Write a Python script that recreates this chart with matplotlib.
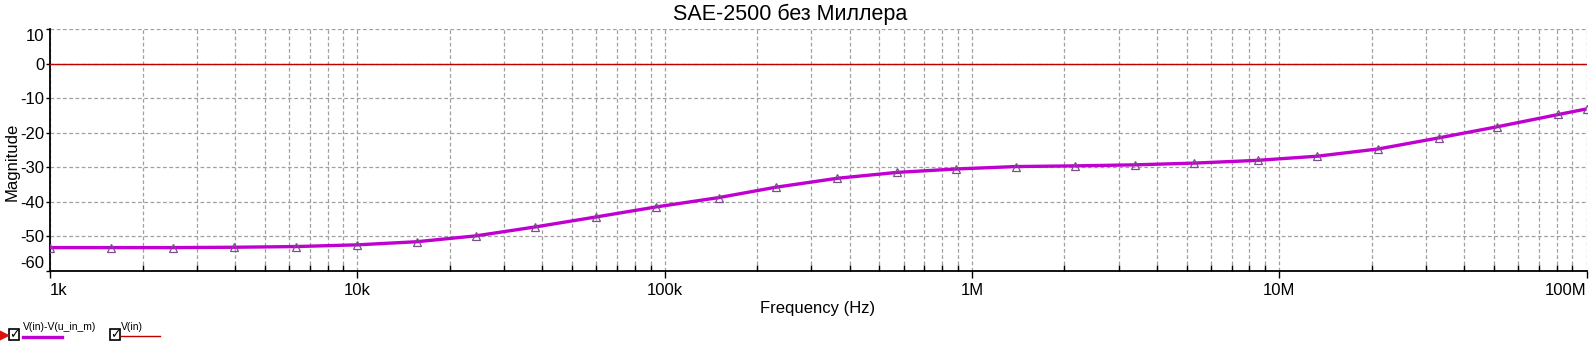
import numpy as np
import matplotlib
matplotlib.use("Agg")
import matplotlib.pyplot as plt
from matplotlib.lines import Line2D
from matplotlib.patches import Rectangle
from matplotlib.ticker import LogLocator, FixedLocator, NullFormatter

plt.rcParams['font.family'] = ['Liberation Sans', 'DejaVu Sans']

# values (Hz, dB)
freq = [1e3, 1.58e3, 2.51e3, 3.98e3, 6.31e3, 1e4, 1.56e4, 2.43e4, 3.8e4, 6e4,
        9.4e4, 1.5e5, 2.3e5, 3.65e5, 5.7e5, 8.9e5, 1.39e6, 2.17e6, 3.4e6,
        5.3e6, 8.5e6, 1.33e7, 2.1e7, 3.3e7, 5.1e7, 8.1e7, 1e8]
mag = [-53.3, -53.3, -53.3, -53.2, -53.0, -52.5, -51.6, -49.9, -47.3, -44.4,
       -41.5, -38.8, -35.8, -33.2, -31.5, -30.5, -29.8, -29.6, -29.3,
       -28.8, -28.0, -26.8, -24.7, -21.5, -18.3, -14.7, -13.1]
vin_freq = [1e3, 1e8]
vin_mag = [0, 0]

xticks = [1e3, 1e4, 1e5, 1e6, 1e7, 1e8]
xlabels = ["1k", "10k", "100k", "1M", "10M", "100M"]
yticks = [-60, -50, -40, -30, -20, -10, 0, 10]

purple = "#c000d0"
red = "#c00000"

fig = plt.figure(figsize=(15.9, 3.53), dpi=100)
ax = fig.add_axes([50 / 1590, 1 - 270.7 / 353, 1536.5 / 1590, (270.7 - 29.3) / 353])

ax.plot(vin_freq, vin_mag, color=red, lw=1.0, zorder=3)
ax.plot(freq, mag, color=purple, lw=2.4, zorder=4, solid_capstyle="butt")
ax.plot(freq, mag, ls="none", marker="^", ms=6, mfc="none", mec="#7a4f8a",
        mew=0.9, zorder=5)

ax.set_xscale("log")
ax.set_xlim(1e3, 1e8)
ax.set_ylim(-60, 10)

ax.xaxis.set_major_locator(FixedLocator(xticks))
ax.set_xticklabels(xlabels)
ax.xaxis.set_minor_locator(LogLocator(base=10, subs=np.arange(2, 10)))
ax.xaxis.set_minor_formatter(NullFormatter())
ax.set_yticks(yticks)
ax.set_yticklabels([str(v) for v in yticks])

ax.grid(True, which="both", axis="x", color="#a0a0a0", ls=(0, (3, 2)), lw=0.9)
ax.grid(True, which="major", axis="y", color="#a0a0a0", ls=(0, (3, 2)), lw=0.9)

for s in ("top", "right"):
    ax.spines[s].set_visible(False)
ax.spines["left"].set_linewidth(1.3)
ax.spines["bottom"].set_linewidth(1.3)

ax.tick_params(axis="x", which="major", direction="out", length=5, width=1,
               labelsize=12, pad=4)
ax.tick_params(axis="x", which="minor", direction="in", length=4, width=1)
ax.tick_params(axis="y", which="major", direction="out", length=3, width=1,
               labelsize=12, pad=1)

# end labels sit inside the plot area, as in the original
ylabs = ax.get_yticklabels()
ylabs[0].set_va("bottom")
ylabs[-1].set_va("top")
xlabs = ax.get_xticklabels()
xlabs[0].set_ha("left")
xlabs[-1].set_ha("right")

fig.text(0.497, 1 - 14 / 353, "SAE-2500 без Миллера", ha="center", va="center",
         fontsize=15.5)
fig.text(818 / 1590, 1 - 309 / 353, "Frequency (Hz)", ha="center", va="center",
         fontsize=12)
fig.text(12 / 1590, 1 - 162 / 353, "Magnitude", ha="center", va="center",
         rotation=90, fontsize=12)

# legend strip at the bottom left
def px(x, y):
    return x / 1590, 1 - y / 353

fig.add_artist(Line2D([px(2, 0)[0]], [px(0, 335)[1]], marker=">", color="#e01010",
                      ms=9, transform=fig.transFigure))
for x0 in (9, 110):
    fig.add_artist(Rectangle(px(x0, 340), 10 / 1590, 11 / 353, fill=False,
                             ec="black", lw=1.2, transform=fig.transFigure))
    fig.text(*px(x0 + 5, 334.5), "✓", ha="center", va="center", fontsize=9,
             fontweight="bold", family="DejaVu Sans")
fig.text(*px(23, 327), "V(in)-V(u_in_m)", ha="left", va="center", fontsize=7.5)
fig.add_artist(Line2D([23 / 1590, 62 / 1590], [px(0, 337)[1]] * 2, color=purple,
                      lw=2.4, transform=fig.transFigure))
fig.text(*px(121, 327), "V(in)", ha="left", va="center", fontsize=7.5)
fig.add_artist(Line2D([121 / 1590, 160 / 1590], [px(0, 336)[1]] * 2, color=red,
                      lw=1.0, transform=fig.transFigure))

fig.savefig("out.png", dpi=100)
